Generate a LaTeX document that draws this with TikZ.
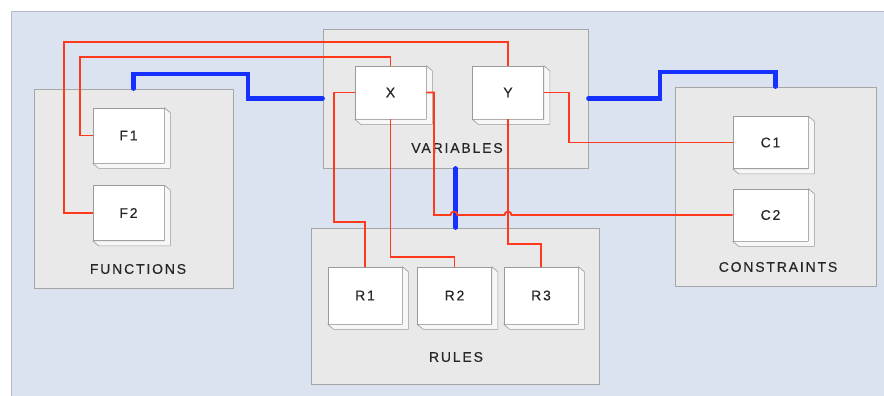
\documentclass[tikz,border=0pt]{standalone}
\usepackage{fontspec}
\usepackage{xcolor}
\setmainfont{Liberation Sans}
\newfontfamily\lblfont[LetterSpace=13,FakeBold=0.4]{Liberation Sans}
\usetikzlibrary{positioning}

\definecolor{bgblue}{HTML}{DBE3F1}
\definecolor{bgedge}{HTML}{B4BCC8}
\definecolor{grpfill}{HTML}{E9E9E9}
\definecolor{grpedge}{HTML}{A6A6A6}
\definecolor{blkedge}{HTML}{9A9A9A}
\definecolor{wirered}{HTML}{FF3A1C}
\definecolor{busblue}{HTML}{1530FF}
\definecolor{txtgray}{HTML}{262626}

\begin{document}
\begin{tikzpicture}[x=1pt, y=-1pt,
    group/.style={draw=grpedge, fill=grpfill, line width=0.8pt, inner sep=0pt},
    block/.style={draw=blkedge, fill=white, line width=0.6pt, inner sep=0pt,
        text=txtgray, font=\lblfont\fontsize{14}{16}\selectfont},
    side/.style={draw=blkedge, fill=black!3, line width=0.6pt, line join=round},
    caption/.style={text=txtgray, font=\lblfont\fontsize{14}{16}\selectfont},
    wire/.style={draw=wirered, line width=1.8pt},
    bus/.style={draw=busblue, line width=4.5pt, line cap=round}]

        \useasboundingbox (0,0) rectangle (884,396);
        \fill[bgblue] (11,12) rectangle (884,396);
        \draw[bgedge, line width=1pt] (11,396) |- (884,12);

        % groups
        \node[group, minimum width=199pt, minimum height=199pt] (fun) at (133.5,188.5) {};
        \node[group, minimum width=265pt, minimum height=139pt] (var) at (455.5,98.5) {};
        \node[group, minimum width=201pt, minimum height=199pt] (con) at (775.5,186.5) {};
        \node[group, minimum width=288pt, minimum height=156pt] (rul) at (455,306) {};

        \node[caption] (funlbl) at (138,269) {FUNCTIONS};
        \node[caption] (varlbl) at (457,148) {VARIABLES};
        \node[caption] (conlbl) at (778,267) {CONSTRAINTS};
        \node[caption] (rullbl) at (456,357) {RULES};

        % blocks
        \node[block, minimum width=71pt, minimum height=55pt] (f1) at (128.5,135.5) {F1};
        \node[block, minimum width=71pt, minimum height=55pt] (f2) at (128.5,213) {F2};
        \node[block, minimum width=71pt, minimum height=53pt] (x) at (390.5,92.5) {X};
        \node[block, minimum width=71pt, minimum height=53pt] (y) at (508,92.5) {Y};
        \node[block, minimum width=75pt, minimum height=52pt] (c1) at (770.5,142.5) {C1};
        \node[block, minimum width=75pt, minimum height=52pt] (c2) at (770.5,215) {C2};
        \node[block, minimum width=74pt, minimum height=57pt] (r1) at (365,295.5) {R1};
        \node[block, minimum width=74pt, minimum height=57pt] (r2) at (454.5,295.5) {R2};
        \node[block, minimum width=74pt, minimum height=57pt] (r3) at (541,295.5) {R3};

        \foreach \n in {f1,f2,x,y,c1,c2,r1,r2,r3}
            \draw[side] (\n.north east) -- ([shift={(6pt,-5pt)}]\n.north east)
                -- ([shift={(6pt,-5pt)}]\n.south east) -- ([shift={(6pt,-5pt)}]\n.south west)
                -- (\n.south west) -- (\n.south east) -- cycle;

        % blue links between groups
        \draw[bus] (fun.north) |- (248,74) |- (var.west);
        \draw[bus] (var.east) -| (660,72) -| (con.north);
        \draw[bus] (var.south) -- (var.south |- rul.north);

        % red links between blocks
        \draw[wire] (x.north) |- (80,57) |- (f1.west);
        \draw[wire] (y.north) |- (64,42) |- (f2.west);
        \draw[wire] (x.west) -| (334,222) -| (r1.north);
        \draw[wire] (x.south) |- ([yshift=10pt]r2.north) -- (r2.north);
        \draw[wire] (y.east) -| (569,142.5) -- (c1.west);
        \draw[wire] (y.south) |- ([yshift=23pt]r3.north) -- (r3.north);
        \draw[wire] (x.east) -| (434,215) -- (450.5,215)
            arc[start angle=180, end angle=0, radius=3.5pt] -- (504.5,215)
            arc[start angle=180, end angle=0, radius=3.5pt] -- (c2.west);
    \end{tikzpicture}
\end{document}
